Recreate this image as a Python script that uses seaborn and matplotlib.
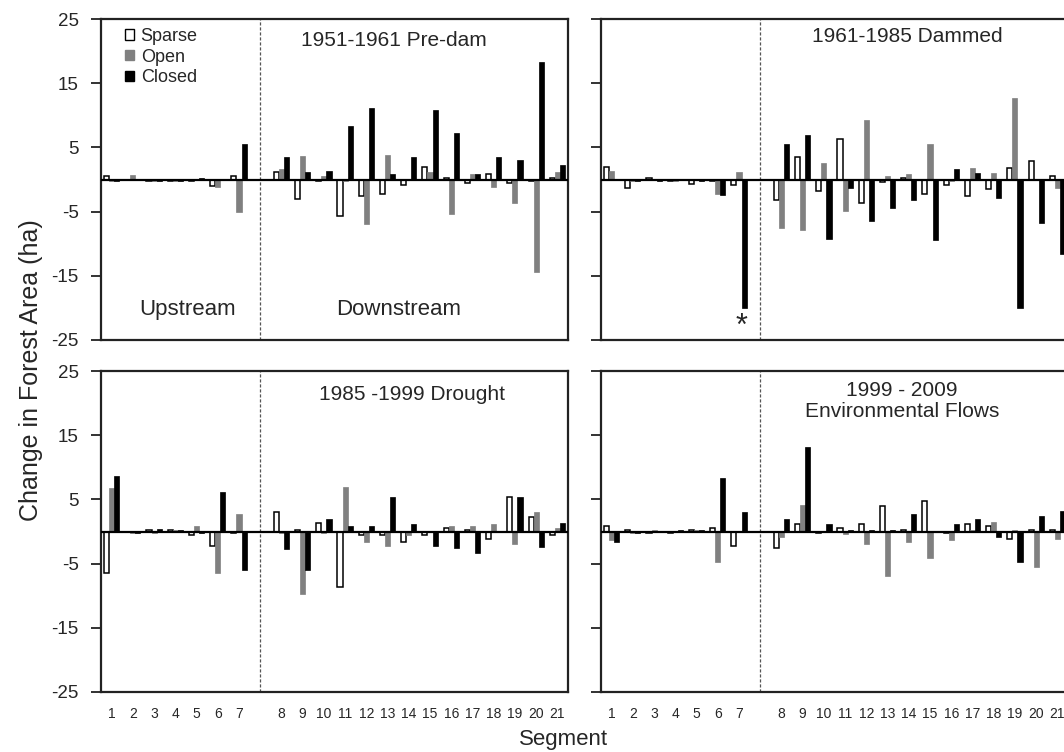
import numpy as np
import pandas as pd
import matplotlib
matplotlib.use("Agg")
import matplotlib.pyplot as plt
import seaborn as sns
from matplotlib.patches import Patch

# ---------------- data ----------------
segments = [str(i) for i in range(1, 22)]
slot_order = segments[:7] + [" "] + segments[7:]
types = ["Sparse", "Open", "Closed"]

predam_sparse = [0.5, -0.1, -0.3, -0.3, -0.3, -1.0, 0.6, 1.1, -3.1, -0.3, -5.7, -2.5, -2.3, -0.9, 2.0, 0.25, -0.6, 0.8, -0.6, -0.3, 0.3]
predam_open = [-0.2, 0.7, -0.2, -0.2, -0.1, -1.2, -5.1, 1.6, 3.7, 0.5, -0.3, -7.0, 3.8, 0.0, 1.1, -5.4, 0.8, -1.1, -3.6, -14.4, 1.1]
predam_closed = [-0.3, 0.1, -0.3, -0.3, 0.2, 0.0, 5.6, 3.5, 1.1, 1.35, 8.3, 11.2, 0.8, 3.5, 10.9, 7.2, 0.8, 3.5, 3.0, 18.3, 2.2]

dammed_sparse = [1.9, -1.4, 0.3, -0.3, -0.7, -0.3, -0.9, -3.25, 3.5, -1.8, 6.3, -3.6, -0.4, 0.2, -2.3, -0.8, -2.6, -1.5, 1.8, 2.9, 0.5]
dammed_open = [1.4, -0.2, 0.1, -0.3, 0.0, -2.2, 1.1, -7.5, -7.8, 2.6, -4.9, 9.3, 0.5, 0.8, 5.6, -0.3, 1.8, 1.0, 12.7, 0.0, -1.3]
dammed_closed = [0.0, -0.2, -0.3, 0.0, -0.2, -2.4, -20.0, 5.6, 7.0, -9.2, -1.3, -6.5, -4.4, -3.2, -9.5, 1.7, 1.0, -2.9, -20.0, -6.8, -11.6]

drought_sparse = [-6.4, 0.0, 0.2, 0.2, -0.6, -2.2, -0.3, 3.0, 0.2, 1.4, -8.6, -0.5, -0.6, -1.7, -0.6, 0.5, 0.2, -1.1, 5.4, 2.2, -0.6]
drought_open = [6.8, -0.2, -0.3, 0.2, 0.9, -6.4, 2.8, -0.3, -9.7, -0.3, 7.0, -1.7, -2.2, -0.5, 0.0, 0.9, 0.9, 1.2, -1.9, 3.0, 0.5]
drought_closed = [8.6, -0.3, 0.4, 0.2, -0.3, 6.1, -6.0, -2.8, -6.0, 1.9, 0.9, 0.9, 5.4, 1.2, -2.2, -2.5, -3.3, 0.0, 5.4, -2.4, 1.4]

envflow_sparse = [0.9, 0.3, -0.3, -0.3, 0.2, 0.6, -2.2, -2.5, 1.1, -0.3, 0.6, 1.1, 4.0, 0.2, 4.8, -0.3, 1.1, 0.9, -1.1, 0.2, 0.2]
envflow_open = [-1.4, -0.2, 0.2, 0.0, 0.2, -4.8, 0.0, -0.8, 4.1, 0.0, -0.4, -1.9, -6.9, -1.7, -4.1, -1.4, 0.2, 1.5, 0.2, -5.5, -1.1]
envflow_closed = [-1.7, -0.2, 0.0, 0.2, 0.2, 8.3, 3.0, 1.9, 13.1, 1.1, 0.2, 0.2, 0.2, 2.8, 0.0, 1.1, 1.9, -0.9, -4.7, 2.4, 3.2]

y_ticks = [25, 15, 5, -5, -15, -25]

panel_titles = ["1951-1961 Pre-dam", "1961-1985 Dammed", "1985 -1999 Drought", "1999 - 2009\nEnvironmental Flows"]
panel_data = [
    (predam_sparse, predam_open, predam_closed),
    (dammed_sparse, dammed_open, dammed_closed),
    (drought_sparse, drought_open, drought_closed),
    (envflow_sparse, envflow_open, envflow_closed),
]

# ---------------- style ----------------
sns.set_theme(style="white")
plt.rcParams["font.family"] = ["Liberation Sans", "DejaVu Sans"]
plt.rcParams["axes.unicode_minus"] = False

colors = {"Sparse": "white", "Open": "#808080", "Closed": "black"}
edges = {"Sparse": "black", "Open": "#808080", "Closed": "black"}

fig = plt.figure(figsize=(10.64, 7.52), dpi=100)
W, H = 1064.0, 752.0
ax_w = 467 / W
ax_h = 321 / H
positions = [
    (101 / W, 1 - 340 / H),
    (601 / W, 1 - 340 / H),
    (101 / W, 1 - 692 / H),
    (601 / W, 1 - 692 / H),
]
title_pos = [(0.628, 0.933), (0.655, 0.944), (0.666, 0.927), (0.645, 0.906)]

for i, (pos, title, vals) in enumerate(zip(positions, panel_titles, panel_data)):
    ax = fig.add_axes([pos[0], pos[1], ax_w, ax_h])
    rows = []
    for t, v in zip(types, vals):
        for s, val in zip(segments, v):
            rows.append({"segment": s, "type": t, "value": val})
    df = pd.DataFrame(rows)
    sns.barplot(data=df, x="segment", y="value", hue="type", order=slot_order,
                hue_order=types, palette=colors, width=0.72, gap=0,
                errorbar=None, ax=ax, legend=False, zorder=2)
    for cont, t in zip(ax.containers, types):
        for p in cont.patches:
            p.set_edgecolor(edges[t])
            p.set_linewidth(1.1 if t == "Sparse" else 0.5)

    ax.set_ylim(-25, 25)
    ax.set_xlim(-0.5, len(slot_order) - 0.5)
    ax.set_yticks(y_ticks)
    ax.axhline(0, color="black", lw=1.6, zorder=3)
    ax.axvline(7, color="#555555", lw=0.9, ls=(0, (2.5, 1.5)), zorder=1)
    for sp in ax.spines.values():
        sp.set_color("#222222")
        sp.set_linewidth(1.6)
    ax.set_xlabel("")
    ax.set_ylabel("")
    ax.tick_params(axis="y", direction="out", length=7, width=1.3, color="#222222",
                   left=True, pad=9, labelsize=13.5)
    if i % 2 == 1:
        ax.tick_params(axis="y", labelleft=False)
    ax.tick_params(axis="x", length=0, pad=11, labelsize=10)
    if i < 2:
        ax.tick_params(axis="x", labelbottom=False)
    ax.text(title_pos[i][0], title_pos[i][1], title, transform=ax.transAxes,
            ha="center", va="center", fontsize=15, linespacing=1.1)

    if i == 0:
        ax.text(0.185, 0.094, "Upstream", transform=ax.transAxes, ha="center",
                va="center", fontsize=16)
        ax.text(0.638, 0.094, "Downstream", transform=ax.transAxes, ha="center",
                va="center", fontsize=16)
        handles = [Patch(facecolor=colors[t], edgecolor=edges[t], linewidth=1.0, label=t)
                   for t in types]
        ax.legend(handles=handles, loc="upper left", bbox_to_anchor=(0.052, 0.972),
                  frameon=False, fontsize=13, handlelength=0.5, handleheight=0.5,
                  handletextpad=0.35, labelspacing=0.2, borderpad=0, borderaxespad=0)
    if i == 1:
        ax.text(6.1, -23.0, "*", ha="center", va="center", fontsize=22)

fig.text(0.029, 0.508, "Change in Forest Area (ha)", rotation=90, ha="center",
         va="center", fontsize=18)
fig.text(0.530, 0.016, "Segment", ha="center", va="center", fontsize=16)

fig.savefig("out.png", dpi=100)
